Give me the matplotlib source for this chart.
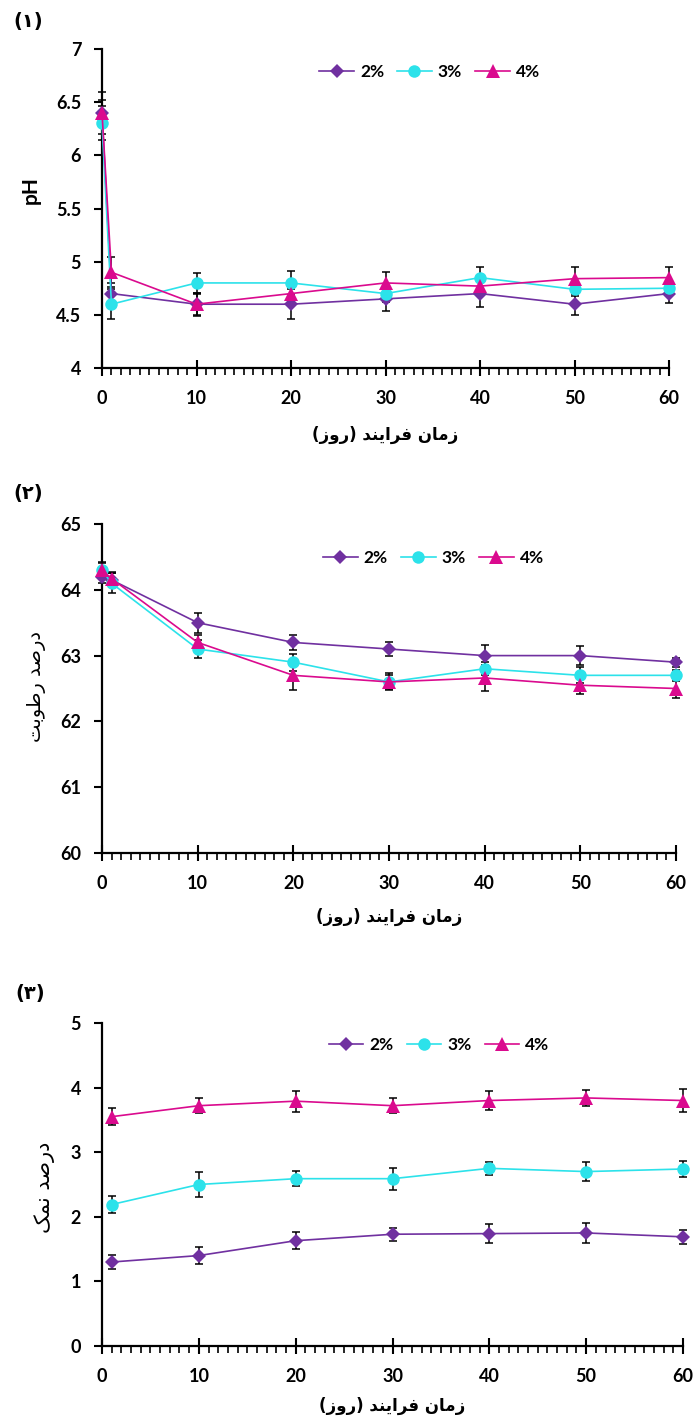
import matplotlib
matplotlib.use("Agg")
import matplotlib.pyplot as plt
from matplotlib.ticker import MultipleLocator

# ==========================================================
# Data
# ==========================================================

SERIES = ["2%", "3%", "4%"]

# (1) pH
DAYS_PH = [0, 1, 10, 20, 30, 40, 50, 60]
PH_2 = [6.40, 4.70, 4.60, 4.60, 4.65, 4.70, 4.60, 4.70]
PH_3 = [6.30, 4.60, 4.80, 4.80, 4.70, 4.85, 4.74, 4.75]
PH_4 = [6.40, 4.90, 4.60, 4.70, 4.80, 4.77, 4.84, 4.85]
PH_2_ERR = [0.20, 0.10, 0.11, 0.14, 0.11, 0.13, 0.10, 0.09]
PH_3_ERR = [0.16, 0.14, 0.09, 0.11, 0.08, 0.10, 0.06, 0.06]
PH_4_ERR = [0.12, 0.14, 0.10, 0.08, 0.10, 0.08, 0.11, 0.10]

# (2) moisture %
DAYS_MOIST = [0, 1, 10, 20, 30, 40, 50, 60]
MOIST_2 = [64.20, 64.15, 63.50, 63.20, 63.10, 63.00, 63.00, 62.90]
MOIST_3 = [64.30, 64.10, 63.10, 62.90, 62.60, 62.80, 62.70, 62.70]
MOIST_4 = [64.30, 64.17, 63.20, 62.70, 62.60, 62.66, 62.55, 62.50]
MOIST_2_ERR = [0.10, 0.10, 0.15, 0.12, 0.10, 0.16, 0.15, 0.07]
MOIST_3_ERR = [0.12, 0.15, 0.13, 0.13, 0.10, 0.10, 0.12, 0.08]
MOIST_4_ERR = [0.10, 0.10, 0.12, 0.22, 0.13, 0.20, 0.14, 0.15]

# (3) salt %
DAYS_SALT = [1, 10, 20, 30, 40, 50, 60]
SALT_2 = [1.30, 1.40, 1.63, 1.73, 1.74, 1.75, 1.69]
SALT_3 = [2.19, 2.50, 2.59, 2.59, 2.75, 2.70, 2.74]
SALT_4 = [3.55, 3.72, 3.79, 3.72, 3.80, 3.84, 3.80]
SALT_2_ERR = [0.11, 0.13, 0.13, 0.10, 0.15, 0.15, 0.11]
SALT_3_ERR = [0.13, 0.19, 0.12, 0.17, 0.10, 0.15, 0.12]
SALT_4_ERR = [0.13, 0.12, 0.16, 0.12, 0.15, 0.12, 0.18]

# Persian labels (presentation forms, visual order)
X_LABEL = "(\uFEAF\uFEED\uFEAD) \uFEAA\uFEE8\uFEF3\uFE8D\uFEAE\uFED3 \uFEE5\uFE8E\uFEE3\uFEAF"
Y_LABEL_MOIST = "\uFE96\uFE91\uFEEE\uFEC3\uFEAD \uFEAA\uFEBB\uFEAD\uFEA9"
Y_LABEL_SALT = "\uFB8F\uFEE4\uFEE7 \uFEAA\uFEBB\uFEAD\uFEA9"
PANEL_LABELS = ["(\u06F1)", "(\u06F2)", "(\u06F3)"]

# ==========================================================
# Style
# ==========================================================

COLORS = ["#7030A0", "#2CE2EA", "#DA0A8E"]
MARKERS = ["D", "o", "^"]
MSIZES = [7.5, 9, 9.5]

W, H = 695, 1426
TICK_FONT = dict(family="Lato", weight="bold", size=13)
FA_FONT = ["DejaVu Sans"]


def px_axes(fig, left, right, top, bottom):
    return fig.add_axes([left / W, 1 - bottom / H, (right - left) / W, (bottom - top) / H])


def draw_panel(ax, days, values, errors, ylim, ystep, legend_xy):

    for vals, errs, color, marker, ms, name in zip(values, errors, COLORS, MARKERS, MSIZES, SERIES):
        ax.errorbar(
            days, vals, yerr=errs,
            fmt="none", ecolor="black", elinewidth=1.1,
            capsize=2.6, capthick=1.1, zorder=2, clip_on=False
        )
        ax.plot(
            days, vals,
            color=color, lw=1.2, marker=marker, ms=ms,
            markeredgewidth=0, label=name, zorder=3, clip_on=False
        )

    ax.set_xlim(0, 60)
    ax.set_ylim(*ylim)

    ax.xaxis.set_major_locator(MultipleLocator(10))
    ax.xaxis.set_minor_locator(MultipleLocator(1))
    ax.yaxis.set_major_locator(MultipleLocator(ystep))
    ax.yaxis.set_major_formatter(plt.FuncFormatter(lambda v, p: f"{v:g}"))

    for side in ["top", "right"]:
        ax.spines[side].set_visible(False)
    for side in ["left", "bottom"]:
        ax.spines[side].set_linewidth(1.6)

    ax.tick_params(axis="x", which="major", direction="inout", length=12, width=1.5, pad=10)
    ax.tick_params(axis="x", which="minor", direction="out", length=5, width=1.2)
    ax.tick_params(axis="y", which="major", direction="out", length=6, width=1.5, pad=9)

    for lab in ax.get_xticklabels() + ax.get_yticklabels():
        lab.set_fontproperties(TICK_FONT)

    ax.legend(
        loc="center left", bbox_to_anchor=legend_xy, ncol=3,
        frameon=False, borderpad=0, borderaxespad=0,
        handlelength=2.0, handletextpad=0.35, columnspacing=0.75,
        prop=dict(family="Lato", weight="bold", size=12.5)
    )


fig = plt.figure(figsize=(W / 100, H / 100), dpi=100)

# ==========================================================
# Panel 1 : pH
# ==========================================================

ax1 = px_axes(fig, 102, 669, 49, 368)
draw_panel(
    ax1, DAYS_PH,
    [PH_2, PH_3, PH_4], [PH_2_ERR, PH_3_ERR, PH_4_ERR],
    (4, 7), 0.5, (0.383, 0.928)
)

fig.text(31 / W, 1 - 190 / H, "pH", rotation=90, ha="center", va="center",
         family="Lato", weight="bold", size=15)
fig.text(385 / W, 1 - 435 / H, X_LABEL, ha="center", va="center",
         family=FA_FONT, weight="bold", size=12)
fig.text(28 / W, 1 - 22 / H, PANEL_LABELS[0], ha="center", va="center",
         family=FA_FONT, weight="bold", size=14)

# ==========================================================
# Panel 2 : moisture
# ==========================================================

ax2 = px_axes(fig, 102, 676, 524, 853)
draw_panel(
    ax2, DAYS_MOIST,
    [MOIST_2, MOIST_3, MOIST_4], [MOIST_2_ERR, MOIST_3_ERR, MOIST_4_ERR],
    (60, 65), 1, (0.385, 0.897)
)

fig.text(37 / W, 1 - 687 / H, Y_LABEL_MOIST, rotation=90, ha="center", va="center",
         family=FA_FONT, size=14)
fig.text(389 / W, 1 - 917 / H, X_LABEL, ha="center", va="center",
         family=FA_FONT, weight="bold", size=12)
fig.text(28 / W, 1 - 494 / H, PANEL_LABELS[1], ha="center", va="center",
         family=FA_FONT, weight="bold", size=14)

# ==========================================================
# Panel 3 : salt
# ==========================================================

ax3 = px_axes(fig, 102, 683, 1023, 1346)
draw_panel(
    ax3, DAYS_SALT,
    [SALT_2, SALT_3, SALT_4], [SALT_2_ERR, SALT_3_ERR, SALT_4_ERR],
    (0, 5), 1, (0.39, 0.932)
)

fig.text(45 / W, 1 - 1187 / H, Y_LABEL_SALT, rotation=90, ha="center", va="center",
         family=FA_FONT, size=15)
fig.text(392 / W, 1 - 1406 / H, X_LABEL, ha="center", va="center",
         family=FA_FONT, weight="bold", size=12)
fig.text(30 / W, 1 - 993 / H, PANEL_LABELS[2], ha="center", va="center",
         family=FA_FONT, weight="bold", size=14)

fig.savefig("out.png", dpi=100)
